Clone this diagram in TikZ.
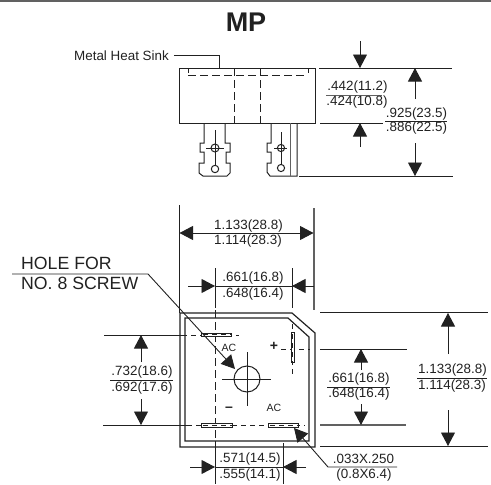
\documentclass[tikz,border=0pt]{standalone}
\usepackage{fontspec}
\setmainfont{Liberation Sans}
\usetikzlibrary{arrows.meta}
\definecolor{inkdark}{gray}{0.13}
\definecolor{inkgray}{gray}{0.38}
\tikzset{
  outline/.style={draw=inkdark,line width=1pt},
  hidden/.style={draw=inkdark,line width=0.9pt,dash pattern=on 5pt off 4pt},
  hiddenlong/.style={draw=inkdark,line width=0.9pt,dash pattern=on 8pt off 4pt},
  dimhead/.style={draw=inkdark,line width=0.9pt,-{Triangle[length=13.5pt,width=14pt]}},
  dimtext/.style={text=inkdark,inner sep=0pt,font=\fontsize{13.4}{15}\selectfont},
  holetext/.style={text=inkdark,inner sep=0pt,anchor=west,font=\fontsize{17.7}{20}\selectfont},
  padbox/.style={draw=inkdark,line width=0.9pt,fill=white},
  marktext/.style={text=inkdark,inner sep=0pt,font=\fontsize{10.5}{12}\selectfont},
  signtext/.style={text=inkdark,inner sep=0pt,font=\fontsize{14}{16}\selectfont\bfseries}
}
\begin{document}
\begin{tikzpicture}[x=1pt,y=-1pt]
  \useasboundingbox (0,0) rectangle (491,485);
  \draw[inkgray,line width=1.6pt] (0,0.8) -- (491,0.8);
  \node[inkdark,inner sep=0pt,font=\fontsize{27}{30}\selectfont\bfseries] (title) at (246,22) {MP};

  % side view
  \node[dimtext,anchor=west] (sink) at (74,56) {Metal Heat Sink};
  \draw[outline] (sink.east) ++(5,-1) -| (219,68);
  \draw[outline] (179,68) rectangle (315,123);
  \draw[hiddenlong] (188,75) -- (307,75);
  \draw[hidden] (188,68) -- (188,75);
  \draw[hidden] (308,68) -- (308,75);
  \draw[hiddenlong] (234,68) -- (234,123);
  \draw[hiddenlong] (260,68) -- (260,123);

  % left terminal
  \draw[outline] (204,123) -- (204,143) -- (200,143) -- (200,152) -- (204,152) -- (204,163) -- (199,163)
    -- (199,173) -- (203,176) -- (227,176) -- (230,173) -- (230,163) -- (226,163) -- (226,152) -- (230,152)
    -- (230,143) -- (225,143) -- (225,123);
  \draw[outline] (215,148) circle (4);
  \draw[outline] (215,169) circle (3.7);
  \draw[outline] (206,148) -- (224,148);
  \draw[outline] (215,130) -- (215,165.3);

  % right terminal
  \draw[outline] (271,123) -- (271,143) -- (267,143) -- (267,152) -- (271,152) -- (271,163) -- (267,163)
    -- (267,172) -- (270,176) -- (297,176) -- (297,123);
  \draw[inkgray,line width=1pt] (290,123) -- (290,176);
  \draw[outline] (281,148) circle (3.6);
  \draw[outline] (281,168) circle (3.6);
  \draw[outline] (274,148) -- (287,148);
  \draw[outline] (281,132) -- (281,164.4);

  % side view dimensions
  \draw[outline] (319,68) -- (452,68);
  \draw[outline] (320,123) -- (383,123);
  \draw[outline] (299,176) -- (453,176);
  \draw[dimhead] (360,41) -- (360,68);
  \draw[dimhead] (360,147) -- (360,123);
  \draw[dimhead] (415,99) -- (415,68);
  \draw[dimhead] (415,143) -- (415,176);
  \draw[inkgray,line width=1pt] (326,95) -- (382,95);
  \node[dimtext] (heightA) at (357.5,87) {.442(11.2)};
  \node[dimtext] (heightB) at (357,102) {.424(10.8)};
  \draw[outline] (385,121) -- (447,121);
  \node[dimtext] (totalA) at (416.5,114) {.925(23.5)};
  \node[dimtext] (totalB) at (416.5,128) {.886(22.5)};

  % top dimensions of the plan
  \draw[outline] (179,205) -- (179,313);
  \draw[inkgray,line width=1.2pt] (314,208) -- (314,310);
  \draw[dimhead] (246,233) -- (179.5,233);
  \draw[dimhead] (246,233) -- (313.5,233);
  \node[dimtext] (widthA) at (248.5,226) {1.133(28.8)};
  \node[dimtext] (widthB) at (248,241) {1.114(28.3)};
  \draw[outline] (215,268) -- (215,308);
  \draw[outline] (292,268) -- (292,308);
  \draw[outline] (215,286) -- (292,286);
  \draw[dimhead] (188,286) -- (215,286);
  \draw[dimhead] (314,286) -- (292,286);
  \node[dimtext] (spanA) at (253,278) {.661(16.8)};
  \node[dimtext] (spanB) at (253,294) {.648(16.4)};

  % plan
  \draw[inkdark,line width=1.2pt] (180,313) -- (292,313) -- (315,333) -- (315,447) -- (180,447) -- cycle;
  \draw[inkdark,line width=1.2pt] (185,318) -- (288,318) -- (309,337) -- (309,441) -- (185,441) -- cycle;

  % centre lines
  \draw[outline] (104,335) -- (182,335);
  \draw[outline] (103,425) -- (187,425);
  \draw[hidden] (182,335) -- (239,335);
  \draw[hidden] (187,425) -- (305,425);
  \draw[hiddenlong] (215.5,310) -- (215.5,441);
  \draw[hidden] (292.5,324) -- (292.5,375);
  \draw[hidden] (281,349) -- (310,349);
  \draw[outline] (215,441) -- (215,484);
  \draw[outline] (283,443) -- (283,484);

  % pads
  \draw[padbox] (201,333) rectangle (231,336.5);
  \draw[padbox] (201,423) rectangle (232,427);
  \draw[padbox] (268,423) rectangle (298,427);
  \draw[padbox] (291,332) rectangle (294,362);
  \draw[hidden] (203,334.7) -- (231,334.7);
  \draw[hidden] (203,425) -- (232,425);
  \draw[hidden] (270,425) -- (298,425);
  \draw[hidden] (292.5,334) -- (292.5,362);

  % hole
  \draw[outline] (247,379) circle (13);
  \draw[outline] (222,379) -- (271,379);
  \draw[outline] (247,352) -- (247,406);
  \node[marktext] (acA) at (229,348) {AC};
  \node[marktext] (acB) at (274,408) {AC};
  \node[signtext] (plus) at (274,346) {+};
  \node[signtext] (minus) at (229,409) {–};

  % hole leader
  \node[holetext] (holeA) at (21,263) {HOLE FOR};
  \node[holetext] (holeB) at (21,283) {NO. 8 SCREW};
  \draw[dimhead] (12,274) -- (148,274) -- (235,369);

  % plan dimensions, left
  \draw[dimhead] (141,362) -- (141,335);
  \draw[dimhead] (141,399) -- (141,425);
  \draw[outline] (110,380) -- (173,380);
  \node[dimtext] (pitchA) at (142,372) {.732(18.6)};
  \node[dimtext] (pitchB) at (142,388) {.692(17.6)};

  % plan dimensions, right
  \draw[outline] (320,312) -- (488,312);
  \draw[outline] (320,446) -- (488,446);
  \draw[outline] (320,349) -- (407,349);
  \draw[inkgray,line width=1.2pt] (320,425) -- (406,425);
  \draw[dimhead] (361,370) -- (361,349);
  \draw[dimhead] (361,404) -- (361,425);
  \draw[outline] (327,387) -- (390,387);
  \node[dimtext] (gapA) at (359,379) {.661(16.8)};
  \node[dimtext] (gapB) at (359,394) {.648(16.4)};
  \draw[dimhead] (448,354) -- (448,313);
  \draw[dimhead] (448,410) -- (448,446);
  \draw[outline] (417,378) -- (487,378);
  \node[dimtext] (depthA) at (452.5,370) {1.133(28.8)};
  \node[dimtext] (depthB) at (452,386) {1.114(28.3)};

  % plan dimensions, bottom
  \draw[dimhead] (190,467) -- (215,467);
  \draw[dimhead] (306,467) -- (283,467);
  \draw[outline] (215,467) -- (283,467);
  \node[dimtext] (padA) at (250,459) {.571(14.5)};
  \node[dimtext] (padB) at (250,475) {.555(14.1)};

  % pad size leader
  \draw[dimhead] (397,467) -- (328,467) -- (294,428);
  \node[dimtext] (sizeA) at (363.5,459) {.033X.250};
  \node[dimtext] (sizeB) at (364,475) {(0.8X6.4)};
\end{tikzpicture}
\end{document}
